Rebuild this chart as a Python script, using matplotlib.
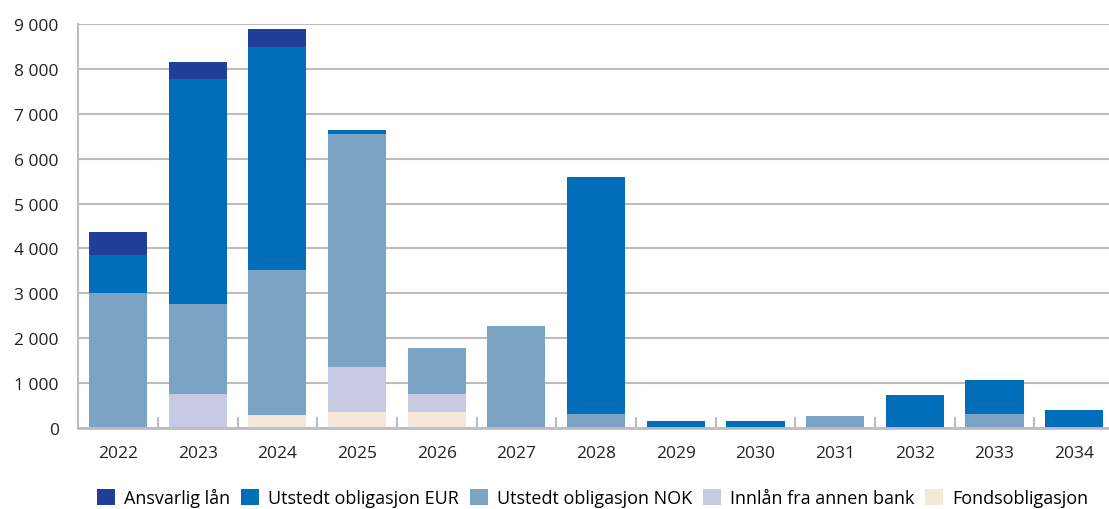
import numpy as np
import matplotlib.pyplot as plt
from matplotlib.ticker import FuncFormatter

plt.rcParams['font.family'] = ['Open Sans', 'DejaVu Sans']

years = ['2022', '2023', '2024', '2025', '2026', '2027', '2028',
         '2029', '2030', '2031', '2032', '2033', '2034']

# verdier i mill. kr (lest av figuren)
fonds = [0, 0, 300, 350, 350, 0, 0, 0, 0, 0, 0, 0, 0]
innlan = [0, 750, 0, 1000, 400, 0, 0, 0, 0, 0, 0, 0, 0]
nok = [3000, 2010, 3220, 5190, 1030, 2270, 310, 0, 0, 270, 0, 310, 0]
eur = [850, 5010, 4970, 90, 0, 0, 5280, 150, 150, 0, 735, 760, 400]
ansvarlig = [510, 380, 400, 0, 0, 0, 0, 0, 0, 0, 0, 0, 0]

series = [
    ('Fondsobligasjon', fonds, '#f5e8d8'),
    ('Innlån fra annen bank', innlan, '#c8c9e3'),
    ('Utstedt obligasjon NOK', nok, '#7ba3c4'),
    ('Utstedt obligasjon EUR', eur, '#006eb9'),
    ('Ansvarlig lån', ansvarlig, '#213f99'),
]

fig = plt.figure(figsize=(11.09, 5.10), dpi=100)
ax = fig.add_axes([0.0705, 0.1588, 0.934, 0.7922])

x = np.arange(len(years))
bottom = np.zeros(len(years))
handles = {}
for name, vals, col in series:
    vals = np.array(vals, dtype=float)
    b = ax.bar(x, vals, 0.73, bottom=bottom, color=col, label=name, zorder=3)
    handles[name] = b
    bottom += vals

ax.set_xlim(-0.5, len(years) - 0.5)
ax.set_ylim(0, 9000)
ax.set_yticks(np.arange(0, 9001, 1000))
ax.yaxis.set_major_formatter(FuncFormatter(lambda v, p: f'{int(v):,}'.replace(',', ' ')))
ax.grid(axis='y', color='#bdbdc0', linewidth=1.5, zorder=0)
ax.set_xticks(x)
ax.set_xticklabels(years)
ax.set_xticks(np.arange(0.5, len(years) - 0.5, 1), minor=True)
ax.tick_params(axis='x', which='major', length=0, pad=12, labelsize=12.5, colors='#222222')
ax.tick_params(axis='x', which='minor', direction='in', length=8, width=1.5, color='#bdbdc0')
ax.tick_params(axis='y', length=0, pad=14, labelsize=12.5, colors='#222222')

for s in ['top', 'right']:
    ax.spines[s].set_visible(False)
ax.spines['left'].set_color('#bdbdc0')
ax.spines['left'].set_linewidth(1.5)
ax.spines['bottom'].set_color('#bdbdc0')
ax.spines['bottom'].set_linewidth(2)
ax.spines['bottom'].set_zorder(4)

order = ['Ansvarlig lån', 'Utstedt obligasjon EUR', 'Utstedt obligasjon NOK',
         'Innlån fra annen bank', 'Fondsobligasjon']
fig.legend([handles[n] for n in order], order, loc='lower left',
           bbox_to_anchor=(0.0857, 0.0), ncol=5, frameon=False,
           borderpad=0.1, borderaxespad=0,
           fontsize=13, handlelength=1.0, handleheight=1.0,
           handletextpad=0.5, columnspacing=0.6)

fig.savefig('out.png', dpi=100)
